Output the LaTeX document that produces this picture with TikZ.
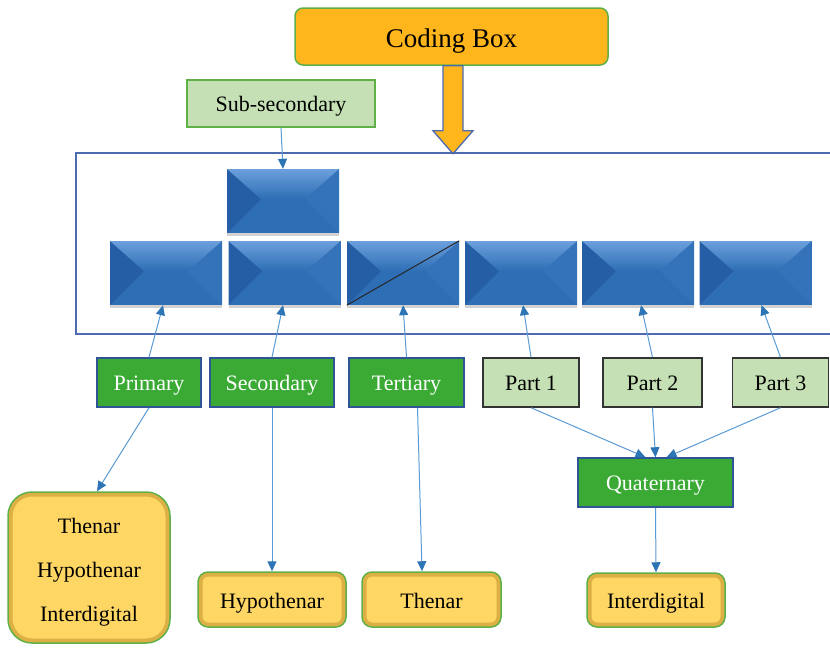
\documentclass[tikz,border=0pt]{standalone}
\usepackage{fontspec}
\setmainfont{Liberation Serif}
\newfontfamily\tnr{Liberation Serif}
\usetikzlibrary{arrows.meta,calc,shadows}
\definecolor{codeorange}{RGB}{255,181,28}
\definecolor{lgreen}{RGB}{197,224,180}
\definecolor{mgreen}{RGB}{96,176,72}
\definecolor{dgreen}{RGB}{58,170,53}
\definecolor{bord}{RGB}{47,85,151}
\definecolor{frame}{RGB}{79,107,176}
\definecolor{bevmain}{RGB}{46,110,181}
\definecolor{bevtop}{RGB}{108,160,220}
\definecolor{bevleft}{RGB}{38,94,165}
\definecolor{bevright}{RGB}{52,114,186}
\definecolor{linkblue}{RGB}{91,155,213}
\definecolor{tipblue}{RGB}{46,117,182}
\definecolor{gold}{RGB}{253,214,99}
\definecolor{goldshade}{RGB}{190,140,40}
\tikzset{
  x=1pt, y=-1pt,
  lbl/.style={font=\tnr\fontsize{22}{26}\selectfont, inner sep=0pt, minimum height=49pt, line width=1.5pt, text height=21pt, text depth=5pt},
  greenbox/.style={lbl, fill=dgreen, draw=bord, text=white},
  partbox/.style={lbl, fill=lgreen, draw=black!80, text=black},
  bevbox/.style={minimum width=112pt, minimum height=64pt, inner sep=0pt, fill=bevmain,
    drop shadow={opacity=0.35, shadow xshift=0pt, shadow yshift=-2.5pt},
    path picture={
      \fill[bevleft] (path picture bounding box.north west) -- ++(34pt,-30pt) -- (path picture bounding box.south west) -- cycle;
      \fill[bevright] (path picture bounding box.north east) -- ++(-34pt,-30pt) -- (path picture bounding box.south east) -- cycle;
      \shade[top color=bevtop, bottom color=bevmain] (path picture bounding box.north west) -- (path picture bounding box.north east) -- ++(-34pt,-30pt) -- ($(path picture bounding box.north west)+(34pt,-30pt)$) -- cycle;
    }},
  goldbox/.style={font=\tnr\fontsize{22}{26}\selectfont, inner sep=0pt, fill=gold, draw=mgreen, line width=1.5pt, rounded corners=#1,
    path picture={
      \draw[goldshade, opacity=0.5, line width=9pt, rounded corners=#1] (path picture bounding box.south west) rectangle (path picture bounding box.north east);
    }},
  link/.style={draw=linkblue, line width=1pt, -{Triangle[length=10pt,width=9pt,color=tipblue]}},
}
\begin{document}
\begin{tikzpicture}
\useasboundingbox (0,0) rectangle (830,664);
\fill[white] (0,0) rectangle (830,664);
\clip (0,0) rectangle (830,664);

% coding box and block arrow
\node[rounded corners=8pt, fill=codeorange, draw=mgreen, line width=1.5pt, minimum width=313pt, minimum height=57pt, inner sep=0pt, font=\tnr\fontsize{27}{30}\selectfont, text height=27pt, text depth=6pt] (coding) at (451.5,36.5) {Coding Box};
\filldraw[fill=codeorange, draw=frame, line width=1.3pt] ($(coding.south)+(-8.5,0)$) -- ++(20,0) -- ++(0,65) -- ++(10,0) -- ++(-20,23) -- ++(-20,-23) -- ++(10,0) -- cycle;

% frame
\draw[frame, line width=1.8pt] (76,153) rectangle (845,334);

% sub-secondary
\node[lbl, fill=lgreen, draw=mgreen, minimum width=188pt, minimum height=47pt] (subsec) at (281,103.5) {Sub-secondary};

% bevel boxes
\node[bevbox] (tb) at (283,201) {};
\node[bevbox] (b1) at (166,273) {};
\node[bevbox] (b2) at (284.5,273) {};
\node[bevbox] (b3) at (403,273) {};
\node[bevbox] (b4) at (521,273) {};
\node[bevbox] (b5) at (638,273) {};
\node[bevbox] (b6) at (755.5,273) {};
\draw[black!85, line width=1pt] (b3.south west) -- (b3.north east);

% labels
\node[greenbox, minimum width=104pt] (prim) at (149,382.5) {Primary};
\node[greenbox, minimum width=124pt] (sec) at (272,382.5) {Secondary};
\node[greenbox, minimum width=115pt] (tert) at (406.5,382.5) {Tertiary};
\node[partbox, minimum width=96pt] (p1) at (531,382.5) {Part 1};
\node[partbox, minimum width=99pt] (p2) at (652.5,382.5) {Part 2};
\node[partbox, minimum width=96pt] (p3) at (780.5,382.5) {Part 3};
\node[greenbox, minimum width=155pt] (quat) at (655.5,482.5) {Quaternary};

% gold boxes
\node[goldbox=24pt, minimum width=162pt, minimum height=151pt, align=center] (big) at (89,567.5)
  {\rule{0pt}{25pt}Thenar\\[18pt]Hypothenar\\[18pt]Interdigital};
\node[goldbox=10pt, minimum width=148pt, minimum height=55pt, text height=22pt, text depth=5pt] (hyp) at (272,599.5) {Hypothenar};
\node[goldbox=10pt, minimum width=139pt, minimum height=55pt, text height=22pt, text depth=5pt] (then) at (431.5,599.5) {Thenar};
\node[goldbox=10pt, minimum width=138pt, minimum height=54pt, text height=22pt, text depth=5pt] (inter) at (656,600) {Interdigital};

% connectors
\draw[link] (subsec.south) -- (tb.north);
\draw[link] (prim.north) -- ($(b1.south)+(-3,0)$);
\draw[link] (sec.north) -- ($(b2.south)+(-1.5,0)$);
\draw[link] (tert.north) -- (b3.south);
\draw[link] (p1.north) -- ($(b4.south)+(2,0)$);
\draw[link] (p2.north) -- ($(b5.south)+(3,0)$);
\draw[link] (p3.north) -- ($(b6.south)+(6,0)$);

\draw[link] (prim.south) -- ($(big.north)+(8,0)$);
\draw[link] (sec.south) -- (hyp.north);
\draw[link] ($(tert.south)+(11,0)$) -- ($(then.north)+(-9.5,0)$);
\draw[link] (p1.south) -- ($(quat.north)+(-10,0)$);
\draw[link] (p2.south) -- (quat.north);
\draw[link] (p3.south) -- ($(quat.north)+(11,0)$);
\draw[link] (quat.south) -- (inter.north);
\end{tikzpicture}
\end{document}
